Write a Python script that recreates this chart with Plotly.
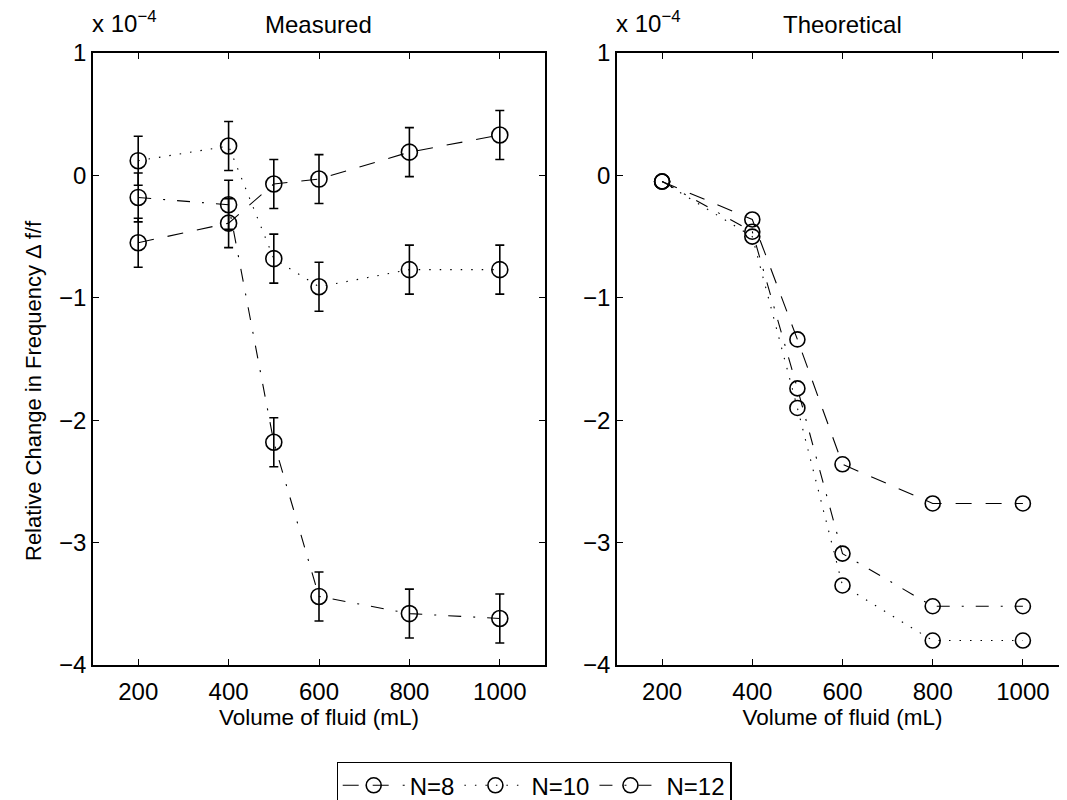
import plotly.graph_objects as go

# ---------------- data (values in units of 1e-4) ----------------
volumes = [200, 400, 500, 600, 800, 1000]

meas_n8 = [-0.55, -0.39, -0.07, -0.03, 0.19, 0.33]
meas_n10 = [0.12, 0.24, -0.68, -0.91, -0.77, -0.77]
meas_n12 = [-0.18, -0.24, -2.18, -3.44, -3.58, -3.62]
meas_err = [0.2, 0.2, 0.2, 0.2, 0.2, 0.2]

theo_n8 = [-0.05, -0.36, -1.34, -2.36, -2.68, -2.68]
theo_n10 = [-0.05, -0.50, -1.90, -3.35, -3.80, -3.80]
theo_n12 = [-0.05, -0.46, -1.74, -3.09, -3.52, -3.52]

series_names = ["N=8", "N=10", "N=12"]
x_ticks = [200, 400, 600, 800, 1000]
y_ticks = [1, 0, -1, -2, -3, -4]

# ---------------- styling ----------------
FONT = "Liberation Sans, Arial, Helvetica, sans-serif"
# page has an 8px body margin; figure coordinates = screen - 8
OFF = 8
W, H = 1062, 800 - OFF
dashes = ["16px,14px", "1.5px,9px", "13px,12px,2px,12px"]


def sx(px):
    return (px - OFF) / W


def sy(py):
    return 1 - (py - OFF) / H


fig = go.Figure()

theo = [theo_n8, theo_n10, theo_n12]
meas = [meas_n8, meas_n10, meas_n12]

for name, ys, dash in zip(series_names, theo, dashes):
    fig.add_trace(go.Scatter(
        x=volumes, y=ys, name=name, xaxis="x2", yaxis="y2",
        mode="lines+markers",
        line=dict(color="black", width=1.1, dash=dash),
        marker=dict(symbol="circle-open", size=15, color="black",
                    line=dict(width=1.6, color="black")),
        showlegend=True,
    ))

for name, ys, dash in zip(series_names, meas, dashes):
    fig.add_trace(go.Scatter(
        x=volumes, y=ys, name=name, xaxis="x", yaxis="y",
        mode="lines+markers",
        line=dict(color="black", width=1.1, dash=dash),
        marker=dict(symbol="circle-open", size=16, color="black",
                    line=dict(width=1.6, color="black")),
        error_y=dict(type="data", array=meas_err, visible=True,
                     color="black", thickness=1.6, width=4.5),
        showlegend=False,
    ))

axis_common = dict(
    showline=True, linecolor="black", linewidth=1.5, mirror="ticks",
    ticks="inside", ticklen=6, tickwidth=1.2, tickcolor="black",
    showgrid=False, zeroline=False,
    tickfont=dict(family=FONT, size=24, color="black"),
)

xdom1 = [sx(93), sx(545)]
xdom2 = [sx(617), sx(1068)]
ydom = [sy(665), sy(53)]

xtitle = dict(text="Volume of fluid (mL)", font=dict(family=FONT, size=22.5, color="black"),
              standoff=4)

fig.update_layout(
    width=W, height=H,
    margin=dict(l=0, r=0, t=0, b=0, autoexpand=False),
    paper_bgcolor="white", plot_bgcolor="white",
    font=dict(family=FONT, size=24, color="black"),
    xaxis=dict(domain=xdom1, anchor="y", range=[100, 1100], tickvals=x_ticks,
               ticklabelstandoff=4, title=xtitle, **axis_common),
    yaxis=dict(domain=ydom, anchor="x", range=[-4, 1], tickvals=y_ticks,
               ticklabelstandoff=0, **axis_common),
    xaxis2=dict(domain=xdom2, anchor="y2", range=[100, 1100], tickvals=x_ticks,
                ticklabelstandoff=4, title=xtitle, **axis_common),
    yaxis2=dict(domain=ydom, anchor="x2", range=[-4, 1], tickvals=y_ticks,
                ticklabelstandoff=0, **axis_common),
    legend=dict(
        orientation="h", xref="container", yref="container",
        x=sx(534), xanchor="center", y=sy(762), yanchor="top",
        bordercolor="black", borderwidth=1.2, bgcolor="white",
        font=dict(family=FONT, size=24, color="black"),
        itemwidth=62, tracegroupgap=0,
    ),
)

annos = [
    dict(text="Measured", x=(xdom1[0] + xdom1[1]) / 2, y=sy(25),
         xanchor="center", yanchor="middle"),
    dict(text="Theoretical", x=(xdom2[0] + xdom2[1]) / 2, y=sy(25),
         xanchor="center", yanchor="middle"),
    dict(text="x 10<sup>−4</sup>", x=sx(90), y=sy(22),
         xanchor="left", yanchor="middle"),
    dict(text="x 10<sup>−4</sup>", x=sx(614), y=sy(22),
         xanchor="left", yanchor="middle"),
    dict(text="Relative Change in Frequency Δ f/f", x=sx(33), y=sy(391),
         xanchor="center", yanchor="middle", textangle=-90,
         font=dict(family=FONT, size=22, color="black")),
]
for a in annos:
    a.setdefault("font", dict(family=FONT, size=24, color="black"))
    fig.add_annotation(xref="paper", yref="paper", showarrow=False, **a)

fig.write_html("out.html")
